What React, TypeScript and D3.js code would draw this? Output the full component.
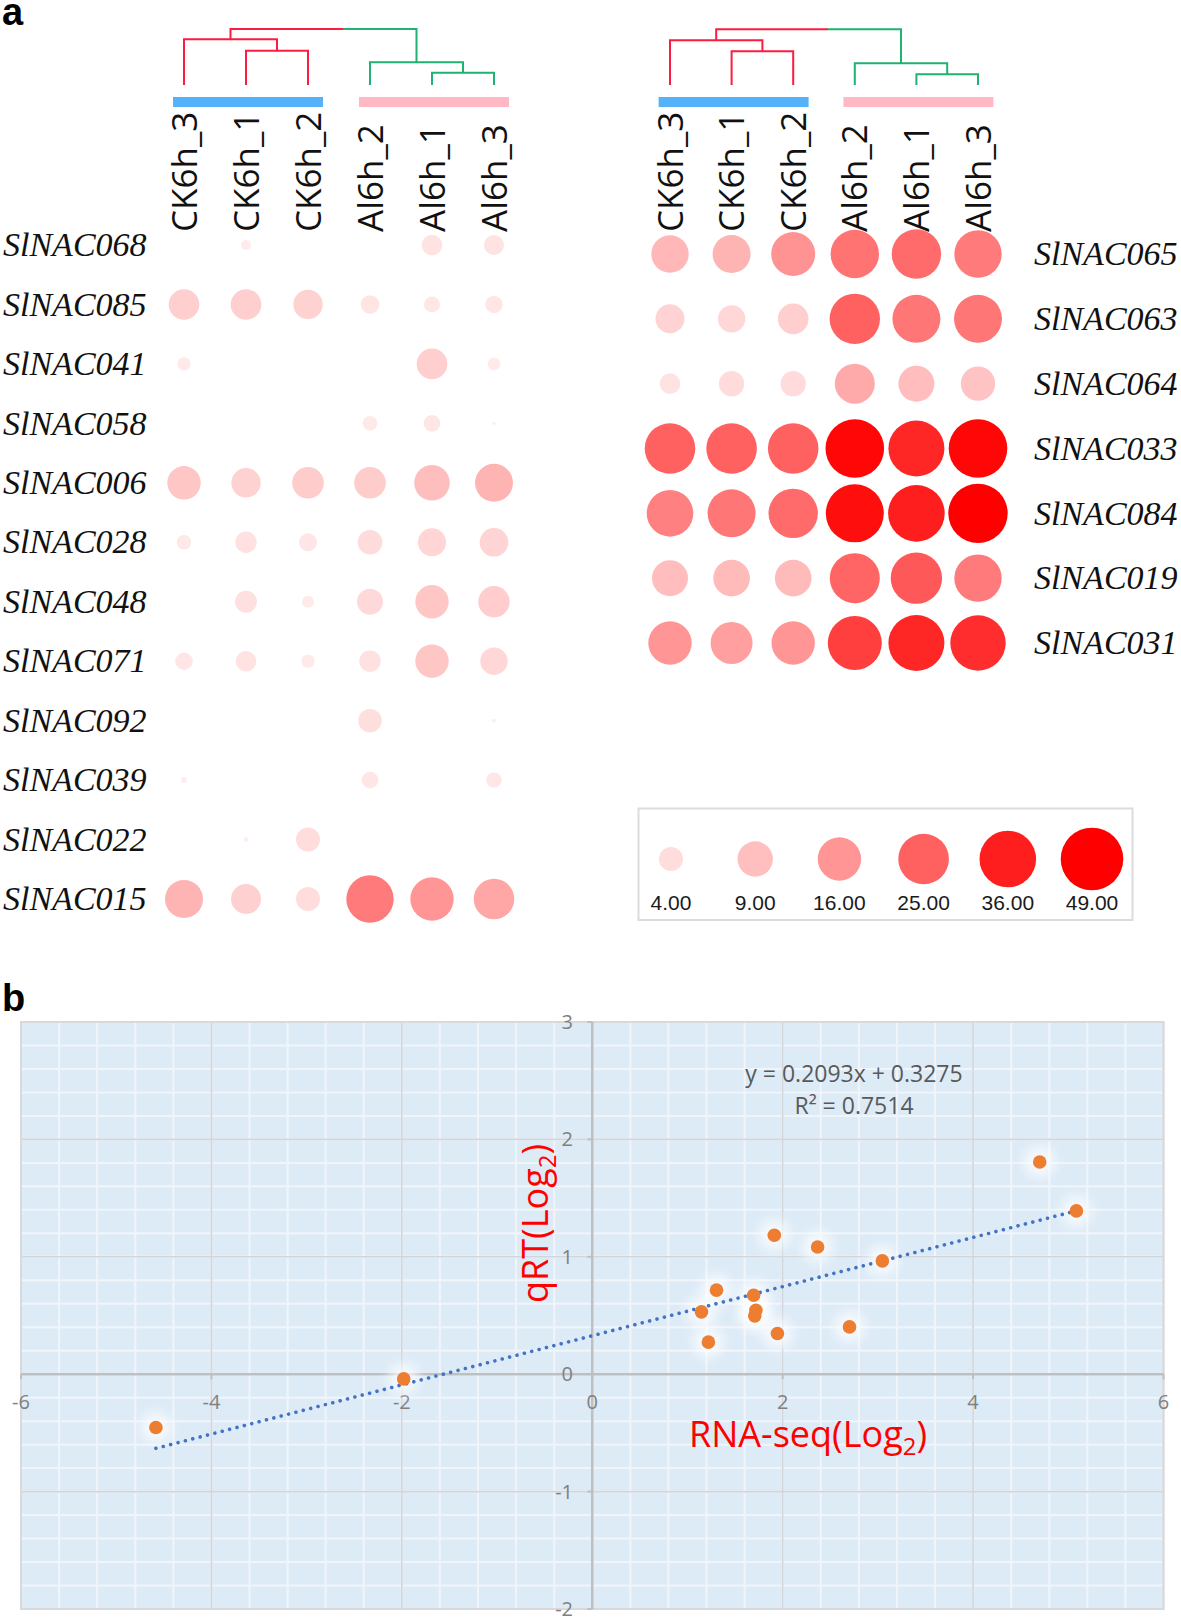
import React from 'react';
import * as d3 from 'd3';

const samples = ['CK6h_3', 'CK6h_1', 'CK6h_2', 'Al6h_2', 'Al6h_1', 'Al6h_3'];

const leftGenes = ['SlNAC068', 'SlNAC085', 'SlNAC041', 'SlNAC058', 'SlNAC006', 'SlNAC028', 'SlNAC048', 'SlNAC071', 'SlNAC092', 'SlNAC039', 'SlNAC022', 'SlNAC015'];
const leftValues: (number | null)[][] = [
  [null, 1.66, null, null, 3.23, 3.11],
  [6.4, 6.4, 5.87, 2.85, 2.42, 2.64],
  [2.05, null, null, null, 6.4, 1.95],
  [null, null, null, 2.21, 2.51, 1.09],
  [7.81, 5.87, 6.87, 6.87, 9.13, 10.85],
  [2.21, 3.4, 2.74, 4.17, 5.32, 5.55],
  [null, 3.53, 1.88, 4.61, 7.81, 6.77],
  [2.64, 3.23, 2.05, 3.4, 7.81, 5.1],
  [null, null, null, 3.85, null, 1.13],
  [1.29, null, null, 2.51, null, 2.33],
  [null, 1.18, 4.0, null, null, null],
  [10.85, 6.13, 4.0, 20.5, 16.0, 13.08],
];

const rightGenes = ['SlNAC065', 'SlNAC063', 'SlNAC064', 'SlNAC033', 'SlNAC084', 'SlNAC019', 'SlNAC031'];
const rightValues: number[][] = [
  [10.39, 10.85, 16.6, 21.8, 23.2, 20.5],
  [5.71, 5.1, 6.4, 24.7, 21.3, 21.3],
  [3.23, 4.42, 4.42, 12.53, 9.4, 8.38],
  [25, 25, 25, 39.9, 34.7, 39.9],
  [19.5, 21.3, 23.2, 38.7, 36, 41.6],
  [9.4, 9.81, 9.81, 24.1, 26.2, 20.5],
  [16, 14.46, 16, 30.7, 34.7, 33.5],
];

const legendValues = [4, 9, 16, 25, 36, 49];

type TreeNode = number | { h: number; c: [TreeNode, TreeNode] };
const leftTree: TreeNode = { h: 100, c: [{ h: 81.6, c: [0, { h: 61.3, c: [1, 2] }] }, { h: 40.5, c: [3, { h: 22, c: [4, 5] }] }] };
const rightTree: TreeNode = { h: 99.5, c: [{ h: 79.8, c: [0, { h: 60.2, c: [1, 2] }] }, { h: 38.75, c: [3, { h: 19.1, c: [4, 5] }] }] };

const rnaSeq = [4.7, 5.085, 1.912, 2.367, 3.047, 1.305, 1.695, 1.147, 1.719, 1.707, 2.702, 1.945, 1.22, -1.98, -4.583];
const qRT = [1.808, 1.391, 1.184, 1.084, 0.965, 0.716, 0.673, 0.531, 0.545, 0.497, 0.403, 0.347, 0.273, -0.04, -0.454];
const trendSlope = 0.2093;
const trendIntercept = 0.3275;
const rSquared = 0.7514;
const xTicks = [-6, -4, -2, 0, 2, 4, 6];
const yTicks = [-2, -1, 0, 1, 2, 3];

const rScale = d3.scaleLog().domain([1, 4, 9, 16, 25, 36, 49]).range([1, 12, 17.7, 21.7, 25.3, 28.3, 31.3]);
const cScale = d3.scaleLinear<string>().domain([0, 41]).range(['#FFF5F5', '#FF0000']).clamp(true);

const groupColors = ['#FF1A40', '#1FB270'];

function layoutTree(
  node: TreeNode,
  col: d3.ScalePoint<string>,
  hScale: d3.ScaleLinear<number, number>,
  split: number,
  out: { d: string; color: string }[]
): { x: number; y: number; g: number } {
  if (typeof node === 'number') {
    return { x: col(samples[node]) as number, y: hScale(0), g: node < 3 ? 0 : 1 };
  }
  const a = layoutTree(node.c[0], col, hScale, split, out);
  const b = layoutTree(node.c[1], col, hScale, split, out);
  const y = hScale(node.h);
  if (a.g === b.g) {
    out.push({ d: `M${a.x},${a.y}V${y}H${b.x}V${b.y}`, color: groupColors[a.g] });
    return { x: (a.x + b.x) / 2, y, g: a.g };
  }
  out.push({ d: `M${a.x},${a.y}V${y}H${split}`, color: groupColors[Math.max(a.g, 0)] });
  out.push({ d: `M${split},${y}H${b.x}V${b.y}`, color: groupColors[Math.max(b.g, 0)] });
  return { x: (a.x + b.x) / 2, y, g: -1 };
}

function BubblePanel(props: {
  genes: string[];
  values: (number | null)[][];
  tree: TreeNode;
  colRange: [number, number];
  rowRange: [number, number];
  labelX: number;
}) {
  const { genes, values, tree, colRange, rowRange, labelX } = props;
  const col = d3.scalePoint<string>().domain(samples).range(colRange);
  const row = d3.scalePoint<string>().domain(genes).range(rowRange);
  const hScale = d3.scaleLinear().domain([0, 100]).range([85, 29]);
  const split = ((col(samples[2]) as number) + (col(samples[3]) as number)) / 2 + 4;
  const segs: { d: string; color: string }[] = [];
  layoutTree(tree, col, hScale, split, segs);
  const ckC = d3.mean(samples.slice(0, 3), (s) => col(s) as number)! + 2;
  const alC = d3.mean(samples.slice(3), (s) => col(s) as number)! + 2;
  return (
    <g>
      {segs.map((s, i) => (
        <path key={'t' + i} d={s.d} fill="none" stroke={s.color} strokeWidth={2} />
      ))}
      <rect x={ckC - 75} y={97} width={150} height={10} fill="#56B2F8" />
      <rect x={alC - 75} y={97} width={150} height={10} fill="#FFB8C4" />
      {samples.map((s) => (
        <text
          key={'c' + s}
          x={col(s)}
          y={232}
          dy="0.36em"
          transform={`rotate(-90,${col(s)},232)`}
          fontFamily="'Open Sans', sans-serif"
          fontSize={35}
          fill="#111"
        >
          {s}
        </text>
      ))}
      {genes.map((g) => (
        <text
          key={'r' + g}
          x={labelX}
          y={row(g)}
          dy="0.33em"
          fontFamily="'Liberation Serif', 'Times New Roman', serif"
          fontStyle="italic"
          fontSize={34}
          fill="#111"
        >
          {g}
        </text>
      ))}
      {genes.map((g, gi) =>
        samples.map((s, si) => {
          const v = values[gi][si];
          if (v == null) return null;
          return <circle key={g + s} cx={col(s)} cy={row(g)} r={Math.max(0, rScale(v))} fill={cScale(v)} />;
        })
      )}
    </g>
  );
}

export default function App() {
  const xS = d3.scaleLinear().domain([-6, 6]).range([21, 1163.5]);
  const yS = d3.scaleLinear().domain([-2, 3]).range([1609, 1022]);
  const xMinor = d3.range(0, 31).map((i) => -6 + i * 0.4);
  const yMinor = d3.range(0, 26).map((i) => -2 + i * 0.2);
  const legX = d3.scalePoint<string>().domain(legendValues.map(String)).range([671, 1092]);
  const xExt = d3.extent(rnaSeq) as [number, number];
  const trend = d3
    .line<number>()
    .x((d) => xS(d))
    .y((d) => yS(trendSlope * d + trendIntercept))(xExt);
  const x0 = xS(0);
  const y0 = yS(0);

  return (
    <svg
      width={1181}
      height={1619}
      viewBox="0 0 1181 1619"
      style={{ position: 'absolute', left: 0, top: 0, display: 'block', background: '#fff' }}
    >
      <defs>
        <filter id="glow" x="-100%" y="-100%" width="300%" height="300%">
          <feGaussianBlur stdDeviation="6" />
        </filter>
      </defs>
      <rect x={0} y={0} width={1181} height={1619} fill="#fff" />

      {/* panel a */}
      <text x={2} y={25} fontFamily="'Liberation Sans', Arial, sans-serif" fontWeight="bold" fontSize={38} fill="#000">
        a
      </text>
      <BubblePanel genes={leftGenes} values={leftValues} tree={leftTree} colRange={[184, 494]} rowRange={[245, 899]} labelX={3} />
      <BubblePanel genes={rightGenes} values={rightValues} tree={rightTree} colRange={[670, 978]} rowRange={[254, 643]} labelX={1034} />

      {/* legend */}
      <rect x={638.5} y={808.5} width={494} height={111.5} fill="#fff" stroke="#DCDCDC" strokeWidth={2} />
      {legendValues.map((v) => (
        <g key={'l' + v}>
          <circle cx={legX(String(v))} cy={859} r={rScale(v)} fill={cScale(v)} />
          <text
            x={legX(String(v))}
            y={910}
            textAnchor="middle"
            fontFamily="'Liberation Sans', Arial, sans-serif"
            fontSize={21}
            fill="#1a1a1a"
          >
            {v.toFixed(2)}
          </text>
        </g>
      ))}

      {/* panel b */}
      <text x={2} y={1011} fontFamily="'Liberation Sans', Arial, sans-serif" fontWeight="bold" fontSize={38} fill="#000">
        b
      </text>
      <rect x={xS(-6)} y={yS(3)} width={xS(6) - xS(-6)} height={yS(-2) - yS(3)} fill="#DDEBF7" />
      {xMinor.map((v, i) => (
        <line key={'xm' + i} x1={xS(v)} x2={xS(v)} y1={yS(3)} y2={yS(-2)} stroke="#F1F5FA" strokeWidth={2} />
      ))}
      {yMinor.map((v, i) => (
        <line key={'ym' + i} x1={xS(-6)} x2={xS(6)} y1={yS(v)} y2={yS(v)} stroke="#F1F5FA" strokeWidth={2} />
      ))}
      {xTicks.map((v) => (
        <line key={'xM' + v} x1={xS(v)} x2={xS(v)} y1={yS(3)} y2={yS(-2)} stroke="#D2D6DA" strokeWidth={1.6} />
      ))}
      {yTicks.map((v) => (
        <line key={'yM' + v} x1={xS(-6)} x2={xS(6)} y1={yS(v)} y2={yS(v)} stroke="#D2D6DA" strokeWidth={1.6} />
      ))}
      <rect x={xS(-6)} y={yS(3)} width={xS(6) - xS(-6)} height={yS(-2) - yS(3)} fill="none" stroke="#D9D9D9" strokeWidth={2} />
      <line x1={xS(-6)} x2={xS(6)} y1={y0} y2={y0} stroke="#BFBFBF" strokeWidth={2.5} />
      <line x1={x0} x2={x0} y1={yS(3)} y2={yS(-2)} stroke="#BFBFBF" strokeWidth={2.5} />
      {xTicks.map((v) => (
        <line key={'xt' + v} x1={xS(v)} x2={xS(v)} y1={y0} y2={y0 + 5} stroke="#BFBFBF" strokeWidth={2} />
      ))}
      {yTicks.map((v) => (
        <line key={'yt' + v} x1={x0 - 5} x2={x0} y1={yS(v)} y2={yS(v)} stroke="#BFBFBF" strokeWidth={2} />
      ))}
      {xTicks.map((v) => (
        <text
          key={'xl' + v}
          x={xS(v)}
          y={1402}
          dy="0.35em"
          textAnchor="middle"
          fontFamily="'Open Sans', sans-serif"
          fontSize={20}
          fill="#808080"
        >
          {v}
        </text>
      ))}
      {yTicks.map((v) => (
        <text
          key={'yl' + v}
          x={573}
          y={yS(v)}
          dy="0.35em"
          textAnchor="end"
          fontFamily="'Open Sans', sans-serif"
          fontSize={20}
          fill="#808080"
        >
          {v}
        </text>
      ))}

      {/* equation */}
      <text x={854} y={1082} textAnchor="middle" fontFamily="'Open Sans', sans-serif" fontSize={23} fill="#595959">
        {`y = ${trendSlope}x + ${trendIntercept}`}
      </text>
      <text x={854} y={1114} textAnchor="middle" fontFamily="'Open Sans', sans-serif" fontSize={23} fill="#595959">
        {`R² = ${rSquared}`}
      </text>

      {/* axis titles */}
      <text x={689} y={1447} fontFamily="'Open Sans', sans-serif" fontSize={36} fill="#FF0000">
        RNA-seq(Log
        <tspan dy={8} fontSize={24}>
          2
        </tspan>
        <tspan dy={-8}>)</tspan>
      </text>
      <text
        x={548}
        y={1303}
        transform="rotate(-90,548,1303)"
        fontFamily="'Open Sans', sans-serif"
        fontSize={36}
        fill="#FF0000"
      >
        qRT(Log
        <tspan dy={8} fontSize={24}>
          2
        </tspan>
        <tspan dy={-8}>)</tspan>
      </text>

      {/* points glow */}
      {rnaSeq.map((v, i) => (
        <circle key={'g' + i} cx={xS(v)} cy={yS(qRT[i])} r={15} fill="#ffffff" opacity={0.75} filter="url(#glow)" />
      ))}
      {/* trend line */}
      <path d={trend || ''} fill="none" stroke="#4472C4" strokeWidth={3.6} strokeDasharray="0.01 7.6" strokeLinecap="round" />
      {rnaSeq.map((v, i) => (
        <circle key={'p' + i} cx={xS(v)} cy={yS(qRT[i])} r={6.8} fill="#ED7D31" />
      ))}
    </svg>
  );
}
